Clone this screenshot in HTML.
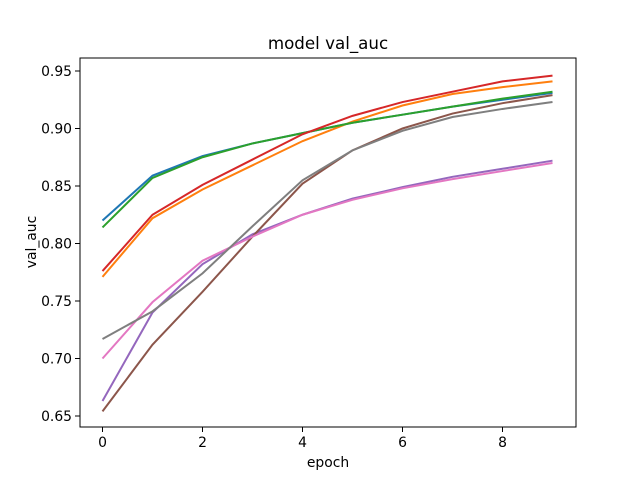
<!DOCTYPE html>
<html><head><meta charset="utf-8"><style>
body{margin:0;background:#fff}
svg{display:block;font-family:"DejaVu Sans","Liberation Sans",sans-serif}
</style></head><body>
<svg id="chart" width="640" height="480">
<rect x="0" y="0" width="640" height="480" fill="#fff"/>
<g id="plot"></g>
</svg>
<script>
const epochs=[0,1,2,3,4,5,6,7,8,9];
const s0=[0.820,0.859,0.876,0.887,0.896,0.905,0.912,0.919,0.925,0.931];
const s1=[0.771,0.822,0.847,0.868,0.889,0.906,0.920,0.930,0.936,0.941];
const s2=[0.814,0.857,0.875,0.887,0.896,0.905,0.912,0.919,0.926,0.932];
const s3=[0.776,0.825,0.851,0.873,0.895,0.911,0.923,0.932,0.941,0.946];
const s4=[0.663,0.740,0.782,0.808,0.825,0.839,0.849,0.858,0.865,0.872];
const s5=[0.654,0.712,0.758,0.806,0.852,0.881,0.900,0.913,0.922,0.929];
const s6=[0.700,0.749,0.785,0.806,0.825,0.838,0.848,0.856,0.863,0.870];
const s7=[0.717,0.741,0.774,0.815,0.855,0.881,0.898,0.910,0.917,0.923];
const xTicks=[0,2,4,6,8];
const yTicks=[0.65,0.70,0.75,0.80,0.85,0.90,0.95];
const series=[s0,s1,s2,s3,s4,s5,s6,s7];
const colors=["#1f77b4","#ff7f0e","#2ca02c","#d62728","#9467bd","#8c564b","#e377c2","#7f7f7f"];
const L=80,R=576,T=58,B=427;
const xs=v=>102.5+v*50;
const ys=v=>416-(v-0.65)/0.05*57.5;
const g=document.getElementById('plot');
const NS="http://www.w3.org/2000/svg";
function mk(t,a){const e=document.createElementNS(NS,t);for(const k in a)e.setAttribute(k,a[k]);g.appendChild(e);return e;}
series.forEach((s,i)=>{
  const p=mk('polyline',{points:s.map((v,j)=>xs(epochs[j])+','+ys(v)).join(' '),fill:'none',stroke:colors[i],'stroke-width':2});
  
  
});
const fr=mk('rect',{x:L,y:T,width:R-L,height:B-T,fill:'none',stroke:'#000','stroke-width':1});


xTicks.forEach(v=>{
  mk('line',{x1:xs(v),x2:xs(v),y1:B,y2:B+5,stroke:'#000','stroke-width':1});
  const t=mk('text',{x:xs(v),y:B+20,'text-anchor':'middle','font-size':13.9});
  t.textContent=v;
  
  
});
yTicks.forEach(v=>{
  mk('line',{x1:L-5,x2:L,y1:ys(v),y2:ys(v),stroke:'#000','stroke-width':1});
  const t=mk('text',{x:L-8,y:ys(v)+5,'text-anchor':'end','font-size':13.9});
  t.textContent=v.toFixed(2);
  
  
});
let t=mk('text',{x:328,y:49,'text-anchor':'middle','font-size':16.7});
t.textContent='model val_auc';


t=mk('text',{x:328,y:467,'text-anchor':'middle','font-size':13.9});
t.textContent='epoch';


t=mk('text',{x:0,y:0,'text-anchor':'middle','font-size':13.9,transform:'translate(36,242) rotate(-90)'});
t.textContent='val_auc';


</script>
</body></html>
